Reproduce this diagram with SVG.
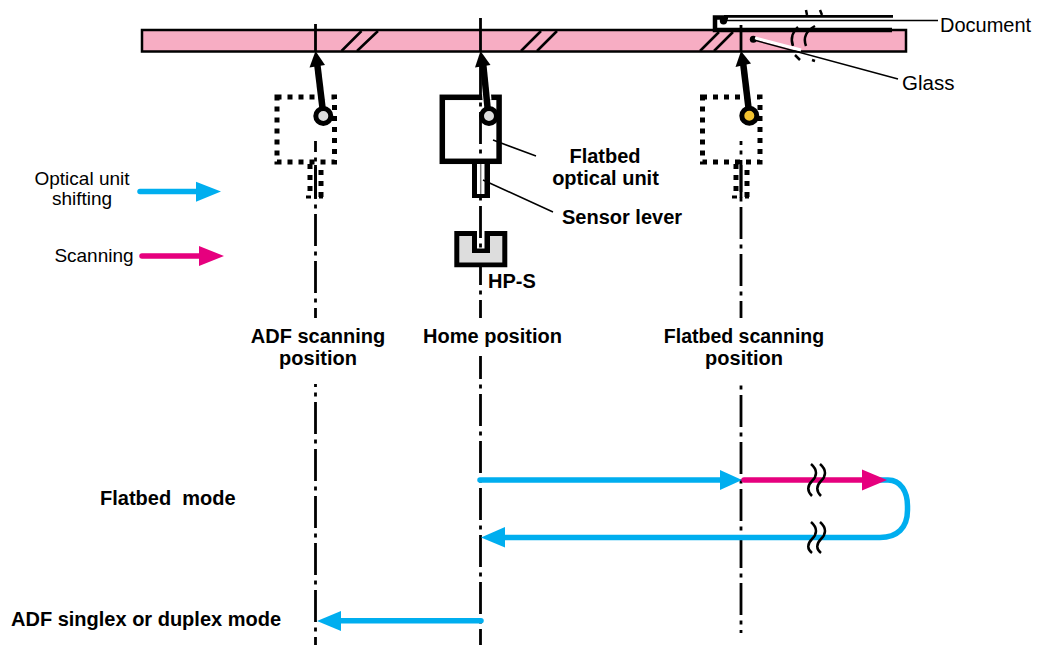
<svg xmlns="http://www.w3.org/2000/svg" width="1039" height="649" viewBox="0 0 1039 649">
<style>
text{font-family:"Liberation Sans",Arial,sans-serif;font-size:20px;fill:#000}
.b{font-weight:bold}
.r{font-size:19px}
.c{fill:none;stroke:#000;stroke-width:2.800}
.dd{fill:none;stroke:#000;stroke-width:2.800;stroke-dasharray:32 5.500 4 5.500}
.d{fill:none;stroke:#000;stroke-width:5;stroke-dasharray:5 6}
.lv{fill:none;stroke:#000;stroke-width:6.500}
.h{fill:none;stroke:#fff;stroke-width:9}
.ring{stroke:#000;stroke-width:5}
.l{fill:none;stroke:#000;stroke-width:1.500}
.cy{fill:none;stroke:#00aeef;stroke-width:5.500;stroke-linecap:round}
.mg{fill:none;stroke:#e6007e;stroke-width:5.500;stroke-linecap:round}
.w{fill:none;stroke:#000;stroke-width:2.500}
.fc{fill:#00aeef}
.fm{fill:#e6007e}
</style>
<g id="glass">
<rect x="142" y="30" width="764" height="21.500" fill="#f7adc3" stroke="#000" stroke-width="2.500"/>
<path class="w" d="M341.500 51 L361.500 31 M357 51 L378 31 M521 51 L541 31 M537 51 L557 31 M700 51 L719 32 M714 51 L733 32"/>
<path class="w" d="M793 46 C790 38 793 31 798 27 M806 46 C803 38 806 31 815 26 M795 55 L800 60 M812 60 L815 61 M806 10 L807 15 M820 10 L822 15"/>
</g>
<g id="centerlines">
<path class="c" d="M315.500 24V52M480.500 18V52M741 25V52"/>
<path class="dd" d="M315.500 141V318" stroke-dashoffset="21"/>
<path class="dd" d="M315.500 384V645" stroke-dashoffset="264"/>
<path class="dd" d="M480.500 65V318"/>
<path class="dd" d="M480.500 356V645" stroke-dashoffset="244"/>
<path class="dd" d="M741 141V318" stroke-dashoffset="28"/>
<path class="dd" d="M741 385V633" stroke-dashoffset="272"/>
</g>
<g id="document">
<path fill="none" stroke="#000" stroke-width="4.500" d="M892 30H715V17.500H728"/>
<path fill="none" stroke="#000" stroke-width="2.800" d="M724 16.400H893"/>
<circle cx="723.500" cy="20.700" r="3.700"/>
</g>
<g id="unit-adf">
<rect class="d" x="277" y="97" width="57.500" height="65" stroke-dashoffset="0.500"/>
<path class="d" d="M310 164V196M321 170V200"/>
<path class="c" d="M306 197H311M319 197H323"/>
<path class="c" d="M315.500 165V198"/>
<path class="h" d="M322 100L321.500 94"/>
<path class="lv" d="M323 112L317 62"/>
<path d="M315.500 51L325 65L309.500 67.500Z"/>
<circle cx="323.300" cy="116" r="7.500" fill="#ddd" class="ring"/>
</g>
<g id="unit-home">
<rect fill="none" stroke="#000" stroke-width="5.500" x="442.300" y="97.300" width="56.800" height="64"/>
<path d="M472 162H490V198H472Z"/>
<path d="M477 164H484.500V194H477Z" fill="#fff"/>
<path d="M480.700 164V194" stroke="#777" stroke-width="1.500"/>
<path class="h" d="M487 100L486.500 94"/>
<path class="lv" d="M488 112L483 62"/>
<path d="M480.500 51L490.500 65L475 67.500Z"/>
<circle cx="489" cy="116" r="7.500" fill="#ddd" class="ring"/>
</g>
<g id="unit-flatbed">
<rect class="d" x="702.500" y="97" width="57.500" height="65" stroke-dashoffset="0.500"/>
<path class="d" d="M736 164V196M747 170V200"/>
<path class="c" d="M732 197H737M745 197H749"/>
<path class="c" d="M741 165V198"/>
<path class="h" d="M747.500 100L746.500 94"/>
<path class="lv" d="M749 112L743 62"/>
<path d="M741 51L751 63.500L735.500 67Z"/>
<circle cx="749.300" cy="115.800" r="7.500" fill="#f2c230" class="ring"/>
</g>
<g id="sensor-hps">
<path fill="#000" d="M454.300 231H507.300V267.300H454.300Z"/>
<path fill="#ddd" d="M459.300 236H472V253H490V236H502.300V262.500H459.300Z"/>
<path d="M477 231H484.500V248.500H477Z" fill="#fff"/>
<path class="c" d="M480.500 231V238M480.500 243.500V247.500"/>
</g>
<g id="connectors">
<path class="cy" d="M140 191.500H198"/><path d="M196 181.700L221 191.500L196 201.700Z" class="fc"/>
<path class="mg" d="M142 256H200"/><path d="M199 246L224 256L199 266Z" class="fm"/>
<path class="cy" d="M480 480H722"/><path d="M720 470L742 480L720 490Z" class="fc"/>
<path class="cy" d="M880 480H888C901 480 907.500 492 907.500 506V510C907.500 528 897 537.500 880 537.500H500"/>
<path class="mg" d="M744 480H864"/><path d="M862 469.500L887 480L862 490.500Z" class="fm"/>
<path d="M505 527L481 537.500L505 547.500Z" class="fc"/>
<path class="cy" d="M481 620.700H340"/><path d="M341 611L317 621L341 631Z" class="fc"/>
<path class="w" d="M811 464C818 470 817 476 812 481C807 486 807 491 812 496M820 464C827 470 826 476 821 481C816 486 816 491 821 496M811 522C818 528 817 534 812 539C807 544 807 549 812 553M820 522C827 528 826 534 821 539C816 544 816 549 821 553"/>
<circle cx="753.300" cy="39.300" r="3.500"/>
<path d="M755 38L801 50" fill="none" stroke="#fff" stroke-width="3"/>
<path class="l" d="M724 20.500H938M754 40L898 79M493 140L536 156M483 180L553 212"/>
</g>
<g id="labels">
<text x="940" y="32">Document</text>
<text x="902" y="89.500" style="font-size:20.500px">Glass</text>
<text class="b" x="605" y="162.500" text-anchor="middle">Flatbed</text>
<text class="b" x="605.500" y="184.500" text-anchor="middle">optical unit</text>
<text class="b" x="562" y="223.500">Sensor lever</text>
<text class="b" x="488" y="288">HP-S</text>
<text class="b" x="318" y="342.500" text-anchor="middle">ADF scanning</text>
<text class="b" x="318" y="365" text-anchor="middle">position</text>
<text class="b" x="492.500" y="342.500" text-anchor="middle">Home position</text>
<text class="b" x="744" y="342.500" text-anchor="middle" style="font-size:19.500px">Flatbed scanning</text>
<text class="b" x="744" y="365" text-anchor="middle">position</text>
<text class="r" x="82" y="185" text-anchor="middle">Optical unit</text>
<text class="r" x="82" y="205" text-anchor="middle">shifting</text>
<text class="r" x="94" y="262" text-anchor="middle">Scanning</text>
<text class="b" x="100" y="505" xml:space="preserve">Flatbed  mode</text>
<text class="b" x="11" y="625.500">ADF singlex or duplex mode</text>
</g>
</svg>
